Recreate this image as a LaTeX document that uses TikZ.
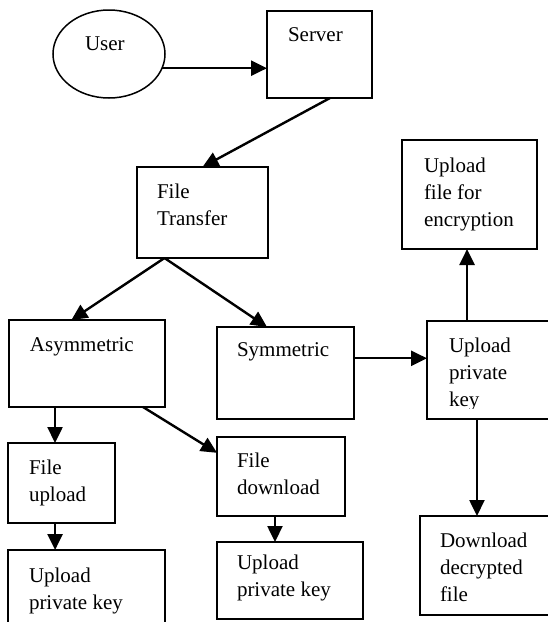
\documentclass[tikz,border=0pt]{standalone}
\usepackage{fontspec}
\setmainfont{Liberation Serif}
\usetikzlibrary{arrows.meta,calc,shapes.geometric}
\begin{document}
\begin{tikzpicture}[x=1pt,y=-1pt,
  box/.style={draw,line width=1.5pt,rectangle,inner sep=0pt,outer sep=0pt},
  oval/.style={draw,line width=1.5pt,ellipse,inner sep=0pt,outer sep=0pt},
  txt/.style={anchor=north west,inner sep=0pt,outer sep=0pt,align=left,font=\fontsize{21}{27}\selectfont},
  arr/.style={line width=2.4pt,-{Triangle[length=16pt,width=15pt]}},
]
\useasboundingbox (0,0) rectangle (547,622);
% shapes
\node[oval,minimum width=112,minimum height=88] (user) at (109,54) {};
\node[box,minimum width=105,minimum height=87] (server) at (319.5,54.5) {};
\node[box,minimum width=131,minimum height=91] (ft) at (202.5,212.5) {};
\node[box,minimum width=135,minimum height=109] (ufe) at (469.5,194.5) {};
\node[box,minimum width=156,minimum height=87] (asym) at (87,363.5) {};
\node[box,minimum width=137,minimum height=92] (sym) at (285.5,373) {};
\node[box,minimum width=140,minimum height=98] (upkr) at (497,370) {};
\node[box,minimum width=107,minimum height=80] (fu) at (61.5,483) {};
\node[box,minimum width=157,minimum height=90] (upkl) at (86.5,595) {};
\node[box,minimum width=128,minimum height=79] (fd) at (281,476.5) {};
\node[box,minimum width=146,minimum height=77] (upkm) at (290,580.5) {};
\node[box,minimum width=147,minimum height=99] (dd) at (493.5,565.5) {};
% texts
\node[txt] (usert) at (85,37) {User};
\node[txt] (servert) at (288,28) {Server};
\node[txt] (ftt) at (157,184) {File\\Transfer};
\node[txt] (ufet) at (424,158) {Upload\\file for\\encryption};
\node[txt] (asymt) at (30,338) {Asymmetric};
\node[txt] (symt) at (237,343) {Symmetric};
\begin{scope}
\clip (427,321) rectangle (567,408);
\node[txt] (upkrt) at (449,338) {Upload\\private\\key};
\end{scope}
\node[txt] (fut) at (29,460) {File\\upload};
\node[txt] (upklt) at (29,568) {Upload\\private key};
\node[txt] (fdt) at (237,453) {File\\download};
\node[txt] (upkmt) at (237,555) {Upload\\private key};
\node[txt] (ddt) at (440,533) {Download\\decrypted\\file};
% connectors
\draw[arr] (user.-15) -- (user.-15 -| server.west);
\draw[arr] ($(server.south west)!0.6!(server.south east)$) -- (ft.north);
\coordinate (ftb) at ($(ft.south west)!0.21!(ft.south east)$);
\draw[arr] (ftb) -- ($(asym.north west)!0.4!(asym.north east)$);
\draw[arr] (ftb) -- ($(sym.north west)!0.365!(sym.north east)$);
\coordinate (syme) at ($(sym.north east)!0.34!(sym.south east)$);
\draw[arr] (syme) -- (syme -| upkr.west);
\coordinate (upkrn) at ($(upkr.north west)!0.286!(upkr.north east)$);
\draw[arr] (upkrn) -- (upkrn |- ufe.south);
\coordinate (upkrs) at ($(upkr.south west)!0.357!(upkr.south east)$);
\draw[arr] (upkrs) -- (upkrs |- dd.north);
\coordinate (asyms) at ($(asym.south west)!0.295!(asym.south east)$);
\draw[arr] (asyms) -- (asyms |- fu.north);
\draw[arr] ($(asym.south west)!0.859!(asym.south east)$) -- ($(fd.north west)!0.2!(fd.south west)$);
\coordinate (fus) at ($(fu.south west)!0.44!(fu.south east)$);
\draw[arr] (fus) -- (fus |- upkl.north);
\coordinate (fds) at ($(fd.south west)!0.453!(fd.south east)$);
\draw[arr] (fds) -- (fds |- upkm.north);
\end{tikzpicture}
\end{document}
